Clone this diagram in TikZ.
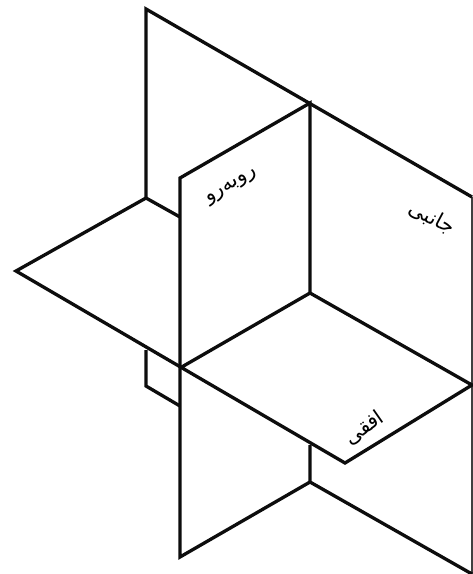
\documentclass[tikz,border=0pt]{standalone}
\usepackage{fontspec}
\usepackage{tikz}
\newfontfamily\arabicfont[Script=Arabic]{DejaVu Sans}
\TeXXeTstate=1
\tikzset{
  plane/.style={line width=2.5pt,line join=miter,color=black!95},
  edgeline/.style={line width=1pt,color=black!75},
  planelabel/.style={font=\arabicfont\fontsize{15.5}{17}\selectfont,inner sep=0pt}
}
\begin{document}
\begin{tikzpicture}[x=0.02646cm,y=-0.02646cm]
  \useasboundingbox (0,0) rectangle (473,574);
  % side plane
  \draw[edgeline] (472,197) -- (472,574);
  \draw[plane] (146,198) -- (146,9) -- (472,197);
  \draw[plane] (146,350) -- (146,386) -- (180,406);
  \draw[plane] (310,445) -- (310,482) -- (472,574);
  % front plane
  \draw[plane] (310,293) -- (310,103) -- (180,178) -- (180,557) -- (310,482);
  % horizontal plane
  \draw[plane] (180,217) -- (146,198) -- (16,271) -- (345,463) -- (472,385) -- (310,293) -- (180,368);
  \node[planelabel,rotate=30] (front) at (232,187) {\beginR روبه‌رو\endR};
  \node[planelabel,rotate=-28] (side) at (432,218) {\beginR جانبی\endR};
  \node[planelabel,rotate=35] (level) at (364,428) {\beginR افقی\endR};
\end{tikzpicture}
\end{document}
